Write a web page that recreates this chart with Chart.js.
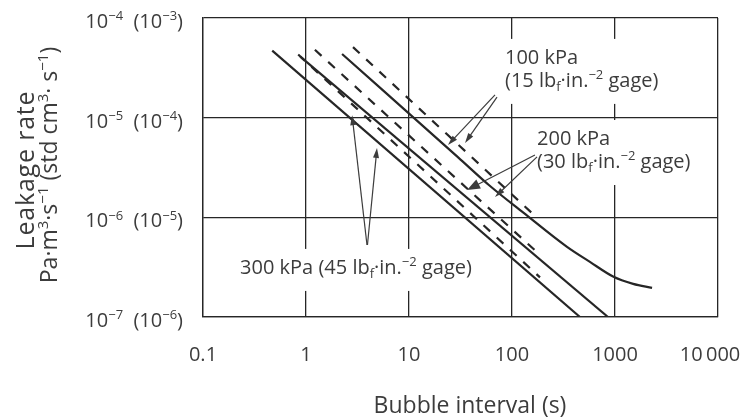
<!DOCTYPE html>
<html>
<head>
<meta charset="utf-8">
<script src="https://cdn.jsdelivr.net/npm/chart.js@4.4.0/dist/chart.umd.min.js"></script>
<style>
  html, body { margin: 0; padding: 0; background: #fff; }
  #wrap { width: 745px; height: 419px; }
</style>
</head>
<body>
<div id="wrap"><canvas id="leakChart" width="745" height="419"></canvas></div>
<script>
// bubble interval (s) against leakage rate (Pa·m3/s)
const solid300X = [0.47, 457];
const solid300Y = [4.7e-5, 1e-7];
const dash300X = [0.84, 187];
const dash300Y = [4.3e-5, 2.5e-7];
const solid200X = [0.88, 855];
const solid200Y = [4.1e-5, 1e-7];
const dash200X = [1.22, 187];
const dash200Y = [4.8e-5, 4.2e-7];
const solid100X = [2.24, 30, 60, 128, 342, 571, 957, 1500, 2290];
const solid100Y = [4.35e-5, 4.0e-6, 2.1e-6, 1.12e-6, 5.05e-7, 3.57e-7, 2.55e-7, 2.15e-7, 1.96e-7];
const dash100X = [2.86, 175];
const dash100Y = [5.1e-5, 9.9e-7];

const xTicks = [0.1, 1, 10, 100, 1000, 10000];
const xTickLabels = ['0.1', '1', '10', '100', '1000', '10\u2009000'];
const yTicks = [1e-7, 1e-6, 1e-5, 1e-4];
const yExpSI = ['\u22127', '\u22126', '\u22125', '\u22124'];
const yExpCgs = ['\u22126', '\u22125', '\u22124', '\u22123'];

// annotation anchors, in data units
const note100At = [85.5, 4.07e-5];
const note200At = [175, 6.25e-6];
const note300At = [0.229, 3.18e-7];
const arrows100 = [[[68.4, 1.69e-5], [23.9, 5.32e-6]], [[71.5, 1.61e-5], [35, 5.57e-6]]];
const arrows200 = [[[167, 4.23e-6], [36.6, 1.88e-6]], [[175, 4.04e-6], [68.4, 1.6e-6]]];
const arrows300 = [[[3.91, 5.28e-7], [2.8, 1.06e-5]], [[3.95, 5.28e-7], [4.89, 4.97e-6]]];

const INK = '#262626';
const TXT = '#3c3c3c';
const FAM = '"Open Sans", "Noto Sans", sans-serif';

function pts(xs, ys) {
    return xs.map((x, i) => ({ x: x, y: ys[i] }));
}

function line(label, xs, ys, dashed, smooth) {
    return {
        label: label,
        data: pts(xs, ys),
        showLine: true,
        borderColor: INK,
        borderWidth: 2.2,
        borderDash: dashed ? [9, 9] : [],
        pointRadius: 0,
        cubicInterpolationMode: smooth ? 'monotone' : 'default',
        tension: smooth ? 0.4 : 0
    };
}

function font(size) {
    return size + 'px ' + FAM;
}

// text with super/subscripts: parts are [text, '' | 'sup' | 'sub']
function richWidth(ctx, parts, size) {
    let w = 0;
    parts.forEach(p => {
        ctx.font = font(p[1] ? Math.round(size * 0.65) : size);
        w += ctx.measureText(p[0]).width;
    });
    return w;
}

function drawRich(ctx, parts, x, y, size, align) {
    const w = richWidth(ctx, parts, size);
    let cx = align === 'right' ? x - w : align === 'center' ? x - w / 2 : x;
    ctx.textBaseline = 'alphabetic';
    ctx.textAlign = 'left';
    parts.forEach(p => {
        const s = p[1] ? Math.round(size * 0.65) : size;
        ctx.font = font(s);
        const dy = p[1] === 'sup' ? -size * 0.38 : p[1] === 'sub' ? size * 0.2 : 0;
        ctx.fillText(p[0], cx, y + dy);
        cx += ctx.measureText(p[0]).width;
    });
    return w;
}

function lbf(n) {
    return [['(' + n + ' lb', ''], ['f', 'sub'], ['\u00b7in.', ''], ['\u22122', 'sup'], [' gage)', '']];
}

const note100 = [[['100 kPa', '']], lbf(15)];
const note200 = [[['200 kPa', '']], lbf(30)];
const note300 = [[['300 kPa ', '']].concat(lbf(45))];

function px(chart, p) {
    return [chart.scales.x.getPixelForValue(p[0]), chart.scales.y.getPixelForValue(p[1])];
}

function noteBox(ctx, chart, at, lines) {
    const p = px(chart, at);
    let w = 0;
    lines.forEach(l => { w = Math.max(w, richWidth(ctx, l, 20)); });
    ctx.fillStyle = '#fff';
    ctx.fillRect(p[0] - 6, p[1] - 18, w + 12, 23 * (lines.length - 1) + 42);
}

function noteText(ctx, chart, at, lines) {
    const p = px(chart, at);
    ctx.fillStyle = TXT;
    lines.forEach((l, i) => drawRich(ctx, l, p[0], p[1] + 7 + 23 * i, 20, 'left'));
}

function arrow(ctx, chart, a, big) {
    const s = px(chart, a[0]);
    const t = px(chart, a[1]);
    const ang = Math.atan2(t[1] - s[1], t[0] - s[0]);
    const len = big ? 13 : 10;
    const half = big ? 5 : 3;
    ctx.strokeStyle = TXT;
    ctx.lineWidth = 1.2;
    ctx.beginPath();
    ctx.moveTo(s[0], s[1]);
    ctx.lineTo(t[0] - Math.cos(ang) * len * 0.8, t[1] - Math.sin(ang) * len * 0.8);
    ctx.stroke();
    ctx.fillStyle = TXT;
    ctx.beginPath();
    ctx.moveTo(t[0], t[1]);
    ctx.lineTo(t[0] - Math.cos(ang) * len - Math.sin(ang) * half, t[1] - Math.sin(ang) * len + Math.cos(ang) * half);
    ctx.lineTo(t[0] - Math.cos(ang) * len + Math.sin(ang) * half, t[1] - Math.sin(ang) * len - Math.cos(ang) * half);
    ctx.closePath();
    ctx.fill();
}

const figureText = {
    id: 'figureText',
    beforeDatasetsDraw(chart) {
        const ctx = chart.ctx;
        ctx.save();
        noteBox(ctx, chart, note100At, note100);
        noteBox(ctx, chart, note200At, note200);
        noteBox(ctx, chart, note300At, note300);
        ctx.restore();
    },
    afterDraw(chart) {
        const ctx = chart.ctx;
        const xs = chart.scales.x;
        const ys = chart.scales.y;
        ctx.save();
        ctx.fillStyle = TXT;

        // y tick labels, SI with cgs in brackets
        yTicks.forEach((v, i) => {
            const y = ys.getPixelForValue(v) + 10;
            drawRich(ctx, [['10', ''], [yExpSI[i], 'sup'], ['  (10', ''], [yExpCgs[i], 'sup'], [')', '']], 183, y, 20, 'right');
        });

        // x tick labels
        ctx.font = font(20);
        ctx.textAlign = 'center';
        ctx.textBaseline = 'alphabetic';
        xTicks.forEach((v, i) => {
            let x = xs.getPixelForValue(v);
            if (i === xTicks.length - 1) x -= 8;
            ctx.fillText(xTickLabels[i], x, 361);
        });

        // axis titles
        drawRich(ctx, [['Bubble interval (s)', '']], 470, 413, 23, 'center');
        ctx.save();
        ctx.translate(34, 170);
        ctx.rotate(-Math.PI / 2);
        ctx.letterSpacing = '0.8px';
        drawRich(ctx, [['Leakage rate', '']], 0, 0, 25, 'center');
        ctx.letterSpacing = '0px';
        ctx.restore();
        ctx.save();
        ctx.translate(57, 165);
        ctx.rotate(-Math.PI / 2);
        drawRich(ctx, [['Pa\u00b7m', ''], ['3', 'sup'], ['\u00b7s', ''], ['\u22121', 'sup'], [' (std cm', ''], ['3', 'sup'], ['\u00b7 s', ''], ['\u22121', 'sup'], [')', '']], 0, 0, 23, 'center');
        ctx.restore();

        // pressure notes and their arrows
        noteText(ctx, chart, note100At, note100);
        noteText(ctx, chart, note200At, note200);
        noteText(ctx, chart, note300At, note300);
        arrows100.forEach(a => arrow(ctx, chart, a, false));
        arrows200.forEach((a, i) => arrow(ctx, chart, a, i === 0));
        arrows300.forEach(a => arrow(ctx, chart, a, false));
        ctx.restore();
    }
};

const ctx = document.getElementById('leakChart').getContext('2d');
new Chart(ctx, {
    type: 'scatter',
    data: {
        datasets: [
            line('300 kPa', solid300X, solid300Y, false),
            line('300 kPa dashed', dash300X, dash300Y, true),
            line('200 kPa', solid200X, solid200Y, false),
            line('200 kPa dashed', dash200X, dash200Y, true),
            line('100 kPa', solid100X, solid100Y, false, true),
            line('100 kPa dashed', dash100X, dash100Y, true)
        ]
    },
    options: {
        responsive: false,
        animation: false,
        layout: { padding: { left: 0, right: 27, top: 18, bottom: 0 } },
        plugins: {
            legend: { display: false },
            tooltip: { enabled: false }
        },
        scales: {
            x: {
                type: 'logarithmic',
                min: 0.1,
                max: 10000,
                afterBuildTicks: s => { s.ticks = xTicks.map(v => ({ value: v })); },
                afterFit: s => { s.height = 102; },
                ticks: { display: false },
                grid: { color: INK, lineWidth: 1.3, drawTicks: false },
                border: { color: INK, width: 1.3 }
            },
            y: {
                type: 'logarithmic',
                min: 1e-7,
                max: 1e-4,
                afterBuildTicks: s => { s.ticks = yTicks.map(v => ({ value: v })); },
                afterFit: s => { s.width = 203; },
                ticks: { display: false },
                grid: { color: INK, lineWidth: 1.3, drawTicks: false },
                border: { color: INK, width: 1.3 }
            }
        }
    },
    plugins: [figureText]
});
</script>
</body>
</html>
